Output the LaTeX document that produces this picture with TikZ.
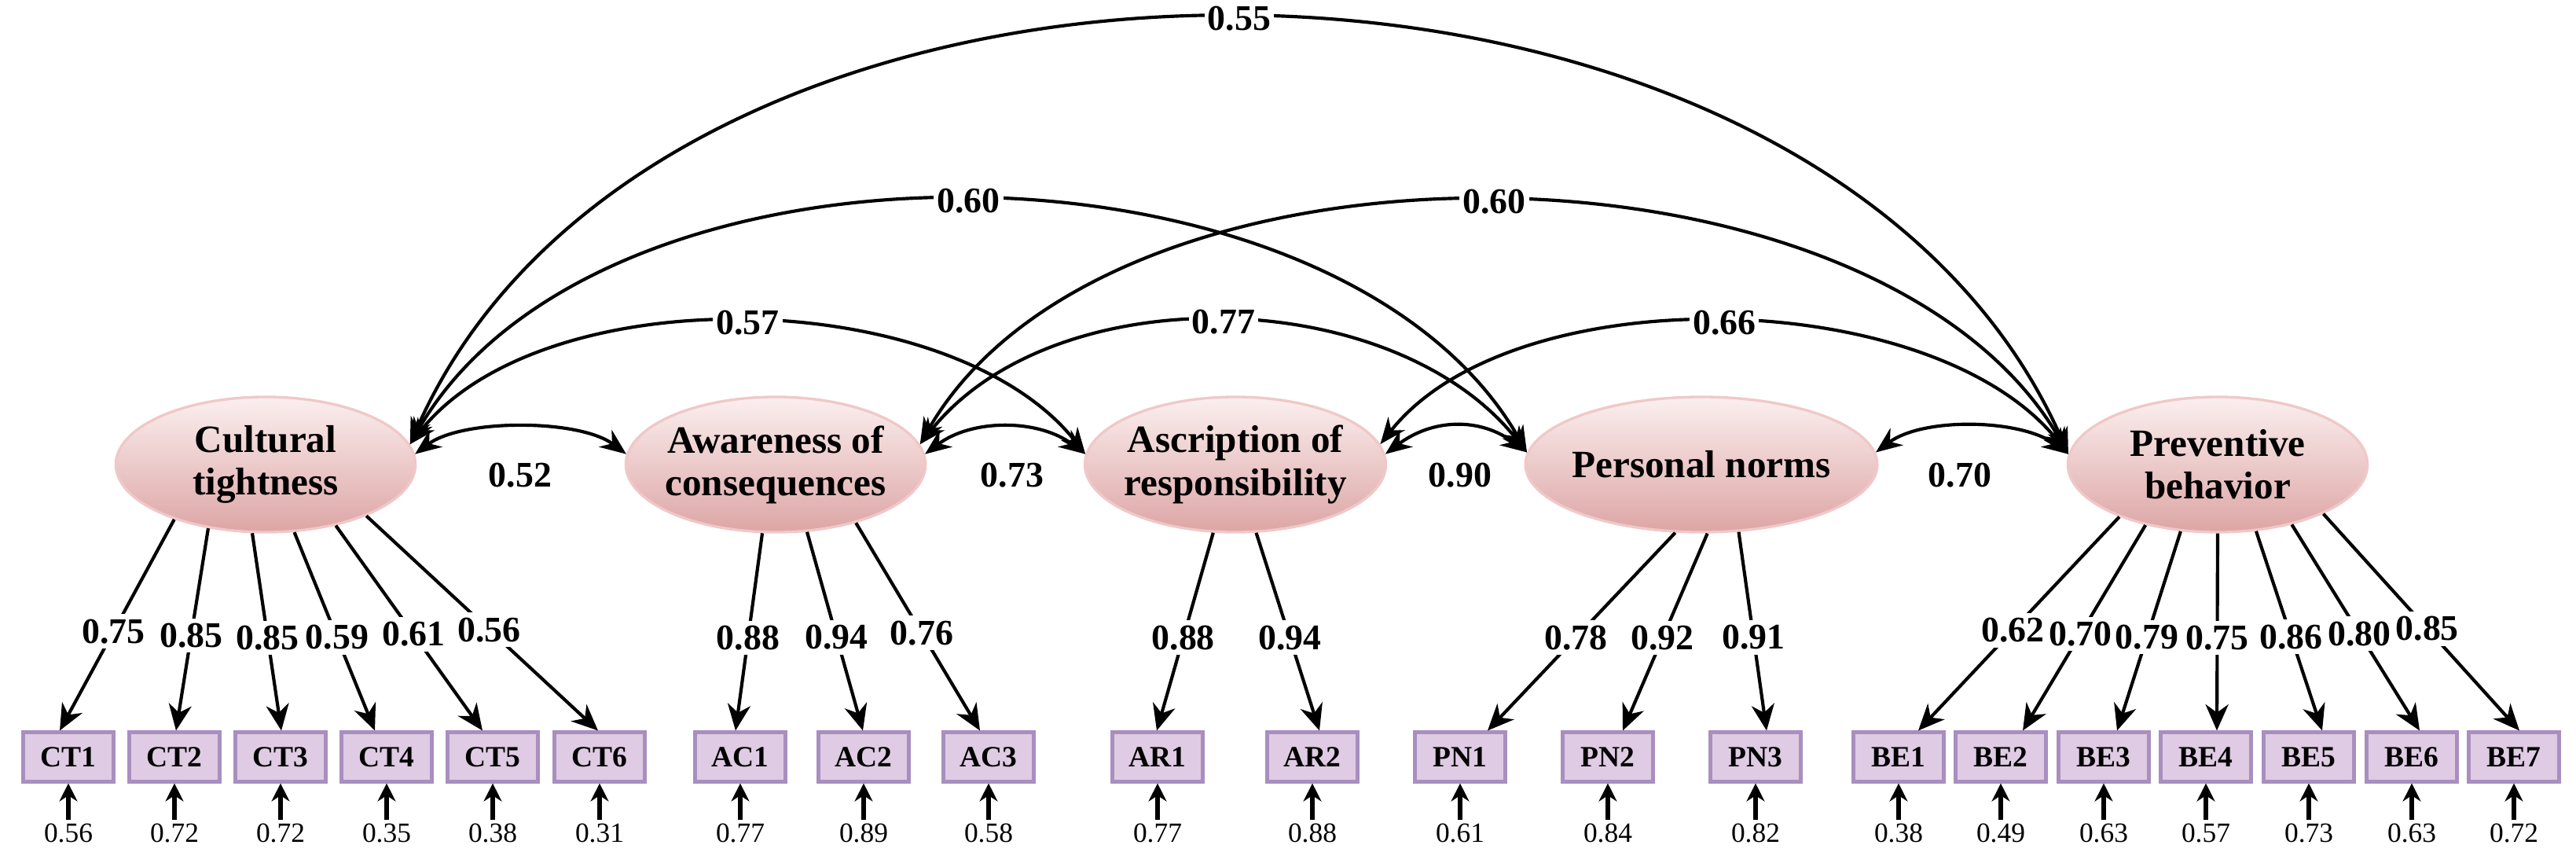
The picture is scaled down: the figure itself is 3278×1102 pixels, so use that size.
\documentclass[tikz,border=0pt]{standalone}
\usepackage{fontspec}
\setmainfont{Liberation Serif}
\usetikzlibrary{shapes.geometric,arrows.meta,calc}
\definecolor{elltop}{HTML}{FBEFEF}
\definecolor{ellbot}{HTML}{DDA5A5}
\definecolor{elldraw}{HTML}{F0C8C8}
\definecolor{boxfill}{HTML}{DFCBE3}
\definecolor{boxdraw}{HTML}{A88FBF}
\begin{document}
\begin{tikzpicture}[x=0.24pt,y=-0.24pt,
  lat/.style={ellipse,draw=elldraw,line width=0.8pt,top color=elltop,bottom color=ellbot,minimum width=91.5pt,minimum height=41.3pt,inner sep=-1.5pt,align=center,font=\bfseries\fontsize{11.8}{13}\selectfont},
  obs/.style={rectangle,draw=boxdraw,line width=1pt,fill=boxfill,minimum width=27.6pt,minimum height=15.1pt,inner sep=0pt,font=\bfseries\fontsize{9}{9}\selectfont},
  err/.style={inner sep=1pt,font=\fontsize{8.5}{9}\selectfont},
  lab/.style={fill=white,inner sep=1.5pt,font=\bfseries\fontsize{11}{12}\selectfont},
  load/.style={line width=1pt,-{Stealth[length=8pt,width=7pt,inset=2.5pt]}},
  erra/.style={line width=1.4pt,-{Stealth[length=5.5pt,width=5.5pt]}},
  cov/.style={line width=1pt,{Stealth[length=8pt,width=6.5pt]}-{Stealth[length=8pt,width=6.5pt]}},
  clab/.style={fill=white,inner sep=1pt,font=\bfseries\fontsize{11}{12}\selectfont}
]
\useasboundingbox (0,0) rectangle (3278,1102);
% latent
\node[lat] (CT) at (338,591) {Cultural\\tightness};
\node[lat] (AC) at (987,591) {Awareness of\\consequences};
\node[lat] (AR) at (1572,591) {Ascription of\\responsibility};
\node[lat] (PN) at (2165,591) {Personal norms};
\node[lat] (BE) at (2822,591) {Preventive\\behavior};
% observed + errors
\foreach \n/\x/\e in {CT1/87/0.56,CT2/222/0.72,CT3/357/0.72,CT4/492/0.35,CT5/627/0.38,CT6/763/0.31,
  AC1/942/0.77,AC2/1099/0.89,AC3/1258/0.58,AR1/1473/0.77,AR2/1670/0.88,
  PN1/1858/0.61,PN2/2046/0.84,PN3/2234/0.82,
  BE1/2416/0.38,BE2/2546/0.49,BE3/2677/0.63,BE4/2807/0.57,BE5/2938/0.73,BE6/3069/0.63,BE7/3199/0.72}{
  \node[obs] (\n) at (\x,963) {\n};
  \node[err] (e\n) at (\x,1060) {\e};
  \draw[erra] (e\n.north) -- (\n.south);
}
% loadings
\foreach \s/\a/\t/\dx/\v in {CT/211.6/CT1/-11/0.75,CT/228.2/CT2/2/0.85,CT/259/CT3/1/0.85,CT/293.9/CT4/-15/0.59,CT/319.5/CT5/-13/0.61,CT/333/CT6/-2/0.56,
  AC/259/AC1/-6/0.88,AC/295.5/AC2/-1/0.94,AC/324/AC3/-11/0.76,
  AR/252/AR1/-1/0.88,AR/287/AR2/9/0.94,
  PN/249/PN1/35/0.78,PN/275/PN2/19/0.92,PN/299/PN3/14/0.91,
  BE/208/BE1/25/0.62,BE/220/BE2/28/0.70,BE/241/BE3/17/0.79,BE/270/BE4/14/0.75,BE/300/BE5/17/0.86,BE/321/BE6/10/0.80,BE/335/BE7/7/0.85}{
  \draw[load] (\s.\a) -- node[lab,pos=0.53]{\v} ($(\t.north)+(\dx,0)$);
}
% adjacent covariances
\draw[cov] (CT.4) .. controls ($(CT.4)+(60,-45)$) and ($(AC.176)+(-60,-45)$) .. (AC.176);
\node[clab] (c1) at (662,605) {0.52};
\draw[cov] (AC.4) .. controls ($(AC.4)+(60,-45)$) and ($(AR.176)+(-60,-45)$) .. (AR.176);
\node[clab] (c2) at (1288,605) {0.73};
\draw[cov] (AR.4) .. controls ($(AR.4)+(60,-45)$) and ($(PN.176)+(-60,-45)$) .. (PN.176);
\node[clab] (c3) at (1858,605) {0.90};
\draw[cov] (PN.4) .. controls ($(PN.4)+(60,-45)$) and ($(BE.176)+(-60,-45)$) .. (BE.176);
\node[clab] (c4) at (2494,605) {0.70};
% long covariances
\draw[cov] (CT.8) .. controls ($(CT.8)+(170,-215)$) and ($(AR.176)+(-170,-215)$) .. node[clab,pos=0.5]{0.57} (AR.176);
\draw[cov] (CT.8) .. controls ($(CT.8)+(240,-420)$) and ($(PN.176)+(-240,-420)$) .. node[clab,pos=0.5]{0.60} (PN.176);
\draw[cov] (CT.8) .. controls ($(CT.8)+(320,-730)$) and ($(BE.176)+(-320,-730)$) .. node[clab,pos=0.5]{0.55} (BE.176);
\draw[cov] (AC.8) .. controls ($(AC.8)+(170,-215)$) and ($(PN.176)+(-170,-215)$) .. node[clab,pos=0.5]{0.77} (PN.176);
\draw[cov] (AC.8) .. controls ($(AC.8)+(240,-420)$) and ($(BE.176)+(-240,-420)$) .. node[clab,pos=0.5]{0.60} (BE.176);
\draw[cov] (AR.8) .. controls ($(AR.8)+(170,-215)$) and ($(BE.176)+(-170,-215)$) .. node[clab,pos=0.5]{0.66} (BE.176);
\end{tikzpicture}
\end{document}
